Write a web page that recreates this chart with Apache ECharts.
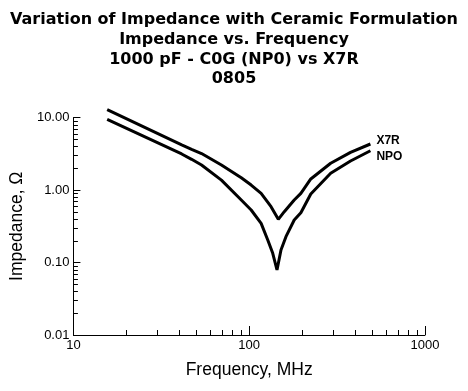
<!DOCTYPE html>
<html>
<head>
<meta charset="utf-8">
<script src="https://cdn.jsdelivr.net/npm/echarts@6/dist/echarts.min.js"></script>
<style>
html,body{margin:0;padding:0;background:#fff;}
#c{width:468px;height:391px;}
</style>
</head>
<body>
<div id="c"></div>
<script>
var titleLines = ['Variation of Impedance with Ceramic Formulation','Impedance vs. Frequency','1000 pF - C0G (NP0) vs X7R','0805'];
var x7rFreq = [15.56, 41.29, 47.02, 53.56, 69.48, 90.12, 102.6, 116.9, 133.1, 146.4, 158.3, 180.3, 196.7, 224.0, 290.6, 377.0, 489.1];
var x7rZ    = [12.81, 4.18, 3.64, 3.18, 2.21, 1.473, 1.17, 0.90, 0.589, 0.394, 0.502, 0.728, 0.90, 1.42, 2.335, 3.31, 4.31];
var npoFreq = [15.56, 41.29, 47.02, 53.56, 69.48, 90.12, 102.6, 116.9, 127.5, 136.1, 143.9, 151.6, 161.8, 180.3, 196.7, 224.0, 290.6, 377.0, 489.1];
var npoZ    = [9.44, 3.14, 2.65, 2.21, 1.37, 0.728, 0.530, 0.347, 0.204, 0.134, 0.0788, 0.149, 0.227, 0.386, 0.486, 0.88, 1.70, 2.51, 3.48];
var xMinor = [20,30,40,50,60,70,80,90,200,300,400,500,600,700,800,900];
var yMinor = [0.02,0.03,0.04,0.05,0.06,0.07,0.08,0.09,0.2,0.3,0.4,0.5,0.6,0.7,0.8,0.9,2,3,4,5,6,7,8,9];

function pairs(f, z){ return f.map(function(v,i){ return [v, z[i]]; }); }

var FONT = '"Liberation Sans", Arial, Helvetica, sans-serif';
var TFONT = '"DejaVu Sans", "Liberation Sans", Arial, sans-serif';
var chart = echarts.init(document.getElementById('c'), null, {renderer:'canvas'});
chart.setOption({
  animation:false,
  backgroundColor:'#fff',
  title:{
    text: titleLines.join('\n'),
    left:'center', top:5,
    textStyle:{fontFamily:TFONT, fontSize:16, fontWeight:'bold', color:'#000', lineHeight:19.8}
  },
  grid: {left:71, right:43, top:117.5, bottom:56},
  xAxis:[{
    type:'log', logBase:10, min:10, max:1000, position:'bottom',
    name:'Frequency, MHz', nameLocation:'middle', nameGap:26,
    nameTextStyle:{fontFamily:FONT, fontSize:17.5, color:'#000'},
    axisLine:{onZero:false, lineStyle:{color:'#000', width:1}},
    axisTick:{inside:true, length:9, lineStyle:{color:'#000'}},
    axisLabel:{fontFamily:FONT, fontSize:13, color:'#000', margin:4,
      formatter:function(v){ return String(Math.round(v)); }},
    splitLine:{show:false}
  },{
    type:'log', logBase:10, min:10, max:1000, position:'bottom', offset:0,
    axisLine:{show:false, onZero:false},
    axisTick:{show:true, inside:true, length:5, customValues:xMinor, lineStyle:{color:'#000'}},
    axisLabel:{show:false},
    splitLine:{show:false}
  }],
  yAxis:[{
    type:'log', logBase:10, min:0.01, max:10, position:'left',
    name:'Impedance, Ω', nameLocation:'middle', nameGap:36,
    nameTextStyle:{fontFamily:FONT, fontSize:17.5, color:'#000'},
    axisLine:{show:true, onZero:false, lineStyle:{color:'#000', width:1}},
    axisTick:{show:true, inside:true, length:7, lineStyle:{color:'#000', width:1}},
    axisLabel:{fontFamily:FONT, fontSize:13, color:'#000', margin:4,
      formatter:function(v){ return Number(v).toFixed(2); }},
    splitLine:{show:false}
  }],
  series:[{
    name:'yMinorTicks', type:'custom', xAxisIndex:0, yAxisIndex:0, silent:true, clip:false,
    data: yMinor.map(function(v){ return [10, v]; }),
    renderItem:function(params, api){
      var p = api.coord([api.value(0), api.value(1)]);
      var y = Math.round(p[1]) + 0.5;
      return {type:'line', shape:{x1:p[0], y1:y, x2:p[0]+4.5, y2:y},
        style:{stroke:'#000', lineWidth:1}};
    }
  },{
    name:'X7R', type:'line', xAxisIndex:0, yAxisIndex:0, clip:false,
    data: pairs(x7rFreq, x7rZ), showSymbol:false, symbol:'none',
    lineStyle:{color:'#000', width:3}, z:3,
    endLabel:{show:true, formatter:'{a}', fontFamily:FONT, fontSize:12, fontWeight:'bold', color:'#000', offset:[-2,-3]}
  },{
    name:'NPO', type:'line', xAxisIndex:0, yAxisIndex:0, clip:false,
    data: pairs(npoFreq, npoZ), showSymbol:false, symbol:'none',
    lineStyle:{color:'#000', width:3}, z:3,
    endLabel:{show:true, formatter:'{a}', fontFamily:FONT, fontSize:12, fontWeight:'bold', color:'#000', offset:[-2,6]}
  }]
});
</script>
</body>
</html>
